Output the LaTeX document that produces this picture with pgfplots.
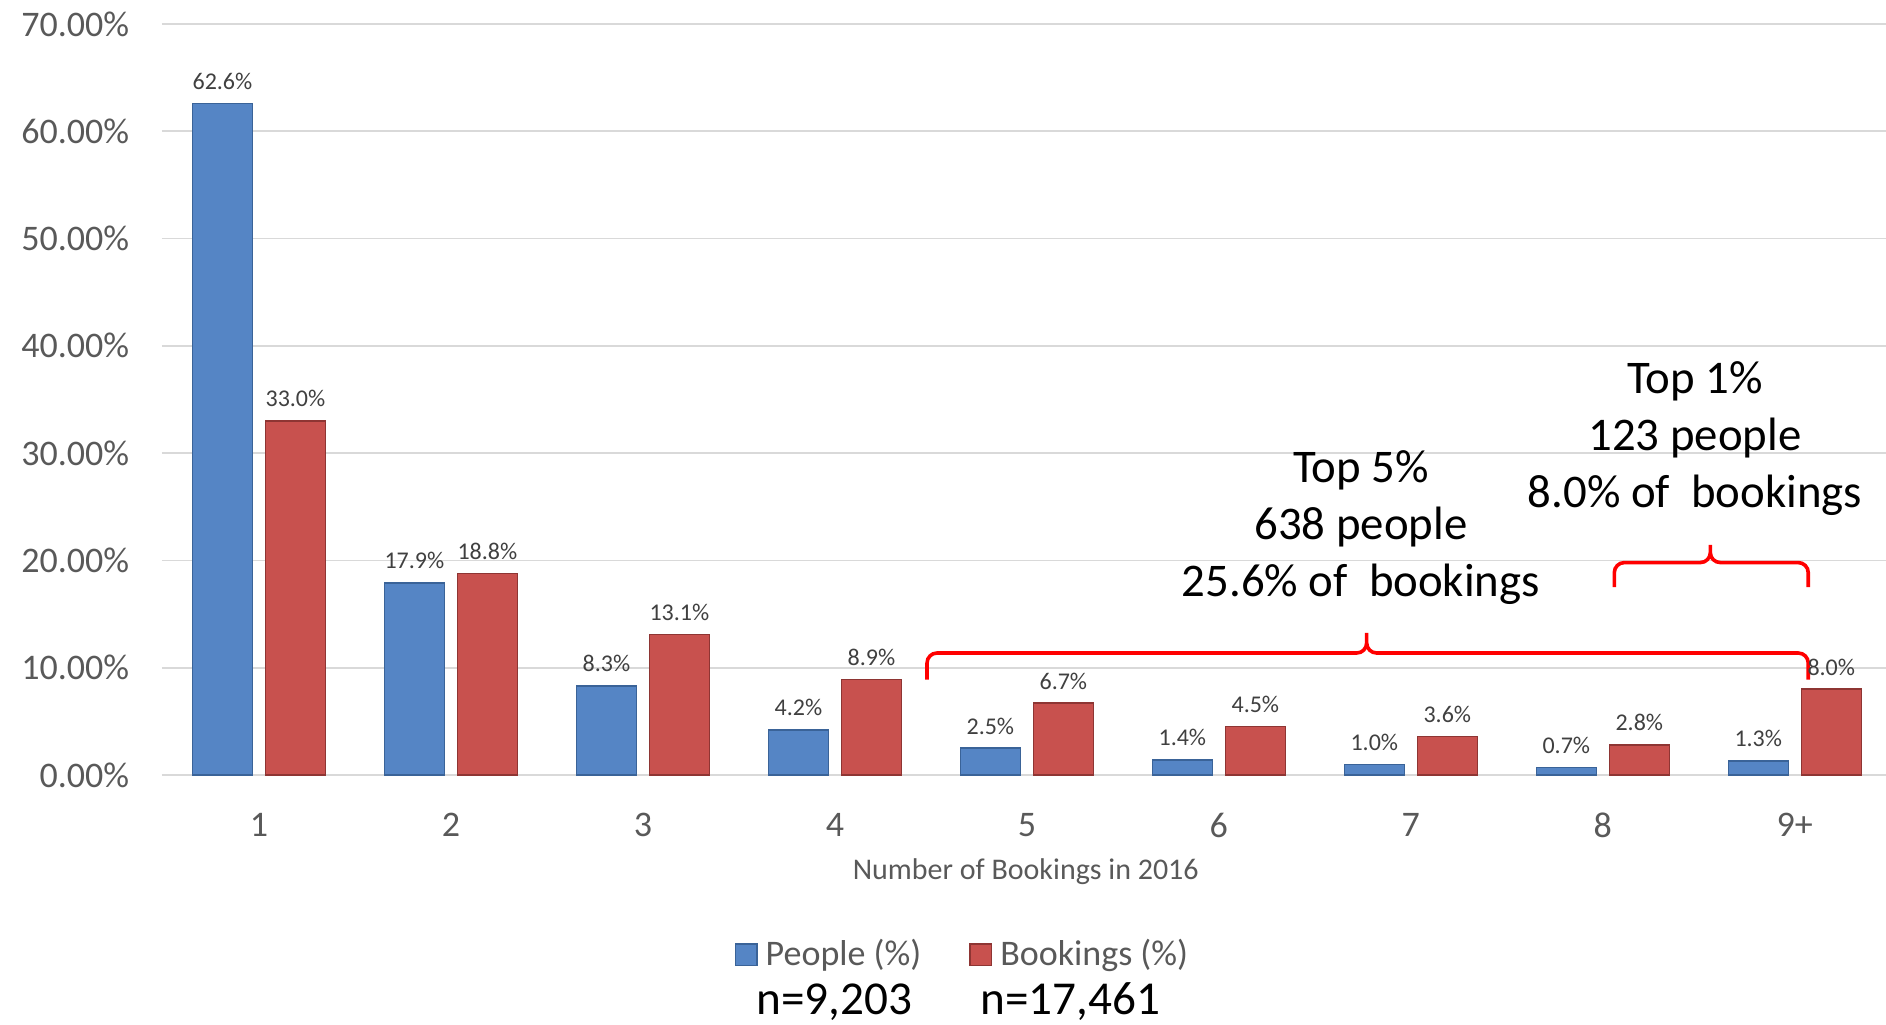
\documentclass[border=0pt]{standalone}
\usepackage{fontspec}
\setmainfont{Carlito}
\usepackage{pgfplots}
\pgfplotsset{compat=1.18}

\definecolor{pblue}{HTML}{5585C5}
\definecolor{pblueD}{HTML}{3A6398}
\definecolor{bred}{HTML}{C8514E}
\definecolor{bredD}{HTML}{8E3533}
\definecolor{ticktxt}{HTML}{595959}
\definecolor{gridc}{HTML}{D9D9D9}
\definecolor{braceRed}{HTML}{FF0000}

\begin{document}
\begin{tikzpicture}
% 1 px of the reference = 0.25pt
\useasboundingbox (-40.5pt,-62.5pt) rectangle (431pt,193.75pt);
\begin{axis}[
    scale only axis,
    width=431pt, height=187.75pt,
    xmin=0.495, xmax=9.475,
    ymin=0, ymax=70,
    ybar, bar width=15pt,
    clip=false,
    axis line style={draw=none},
    major tick length=0pt,
    ytick={0,10,...,70},
    ymajorgrids,
    grid style={gridc, line width=0.45pt},
    xtick={1,...,9},
    xticklabels={1,2,3,4,5,6,7,8,9+},
    /pgf/number format/assume math mode=true,
    yticklabel={\pgfmathprintnumber[fixed,fixed zerofill,precision=2]{\tick}\%},
    yticklabel style={font=\fontsize{9}{10}\selectfont, text=ticktxt, anchor=east, inner sep=0pt, xshift=-8pt},
    xticklabel style={font=\fontsize{9}{10}\selectfont, text=ticktxt, anchor=north, inner sep=0pt, yshift=-9.4pt},
    xlabel={Number of Bookings in 2016},
    xlabel style={font=\fontsize{7.5}{9}\selectfont, text=ticktxt, at={(axis description cs:0.501,0)}, anchor=center, yshift=-24.25pt},
    nodes near coords={\pgfmathprintnumber[fixed,fixed zerofill,precision=1]{\pgfplotspointmeta}\%},
    every node near coord/.append style={font=\fontsize{6}{7}\selectfont, text=black!75, inner sep=0pt, yshift=3.3pt},
    legend columns=2,
    legend style={draw=none, fill=none, at={(axis description cs:0.466,0)}, anchor=center, yshift=-45pt,
        font=\fontsize{9}{10}\selectfont, text=ticktxt,
        /tikz/every even column/.append style={column sep=10pt}},
    legend image code/.code={\draw[#1] (0pt,-2.7pt) rectangle (5.4pt,2.7pt);},
]
\addplot[bar shift=-9.125pt, draw=pblueD, line width=0.35pt, fill=pblue]
    coordinates {(1,62.6) (2,17.9) (3,8.3) (4,4.2) (5,2.5) (6,1.4) (7,1.0) (8,0.7) (9,1.3)};
\addplot[bar shift=9.125pt, draw=bredD, line width=0.35pt, fill=bred]
    coordinates {(1,33.0) (2,18.8) (3,13.1) (4,8.9) (5,6.7) (6,4.5) (7,3.6) (8,2.8) (9,8.0)};
\legend{People (\%), Bookings (\%)}

% braces and notes
\draw[braceRed, line width=0.9pt, rounded corners=2.5pt]
    (axis cs:4.48,8.9) |- (axis cs:6.77,11.37) -- (axis cs:6.77,13.8)
    -- (axis cs:6.77,11.37) -| (axis cs:9.07,8.9);
\draw[braceRed, line width=0.9pt, rounded corners=2.5pt]
    (axis cs:8.06,17.5) |- (axis cs:8.56,19.8) -- (axis cs:8.56,22.0)
    -- (axis cs:8.56,19.8) -| (axis cs:9.07,17.5);
\node[align=center, font=\fontsize{11.7}{14.25}\selectfont] at (axis cs:6.74,23.1)
    {Top 5\%\\638 people\\25.6\% of\ \ bookings};
\node[align=center, font=\fontsize{11.7}{14.25}\selectfont] at (axis cs:8.48,31.4)
    {Top 1\%\\123 people\\8.0\% of\ \ bookings};

\node[font=\fontsize{11.8}{14}\selectfont, anchor=center] at (axis description cs:0.39,0) [yshift=-56.75pt] {n=9,203};
\node[font=\fontsize{11.8}{14}\selectfont, anchor=center] at (axis description cs:0.527,0) [yshift=-56.75pt] {n=17,461};
\end{axis}
\end{tikzpicture}
\end{document}
